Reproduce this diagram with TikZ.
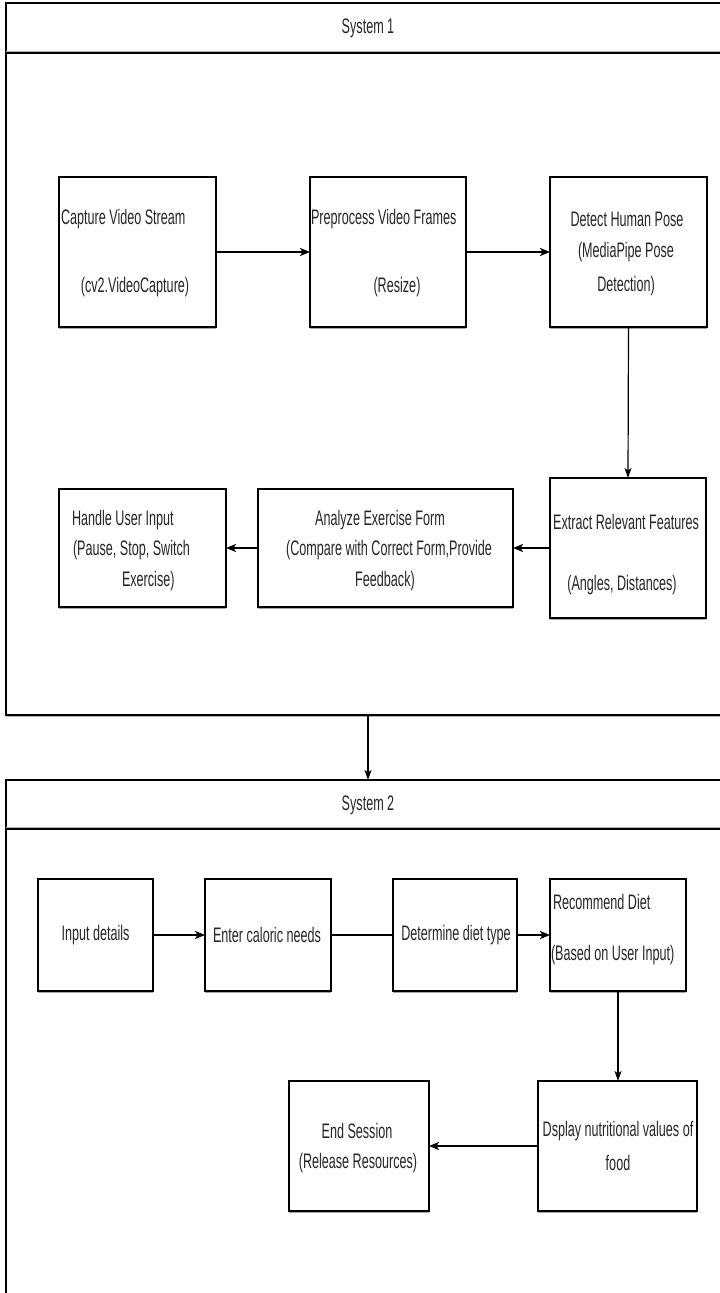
\documentclass[tikz,border=0pt]{standalone}
\usepackage{fontspec}
\setmainfont{Liberation Sans}[FakeStretch=0.6]
\usetikzlibrary{arrows.meta,shadows}
\begin{document}
\begin{tikzpicture}[x=1pt,y=-1pt,
  every node/.style={inner sep=0pt,outer sep=0pt},
  box/.style={draw=black,line width=1.2pt,fill=white,rectangle,
    drop shadow={shadow xshift=0pt,shadow yshift=-1.6pt,fill=black!35,opacity=1}},
  cont/.style={draw=black,line width=1.6pt,fill=white,rectangle,
    drop shadow={shadow xshift=0pt,shadow yshift=-1.8pt,fill=black!30,opacity=1}},
  txt/.style={font=\fontsize{21}{23}\selectfont,text=black!85},
  arr/.style={line width=1.8pt,-{Stealth[length=10pt,width=8pt,inset=2.5pt]}},
  tarr/.style={line width=1.2pt,-{Stealth[length=10pt,width=7pt,inset=2.5pt]}},
  ln/.style={line width=1.8pt},
  divider/.style={line width=1.6pt}
]
\useasboundingbox (0,0) rectangle (720,1293);
% containers
\node[cont,minimum width=724pt,minimum height=712pt] (sys1) at (368,359) {};
\node[cont,minimum width=724pt,minimum height=560pt] (sys2) at (368,1060) {};
\coordinate (d1l) at (6,53);
\coordinate (d1r) at (730,53);
\coordinate (d2l) at (6,829);
\coordinate (d2r) at (730,829);
\draw[black!30,line width=1.4pt] ([yshift=1.8pt]d1l) -- ([yshift=1.8pt]d1r);
\draw[divider] (d1l) -- (d1r);
\draw[black!30,line width=1.4pt] ([yshift=1.8pt]d2l) -- ([yshift=1.8pt]d2r);
\draw[divider] (d2l) -- (d2r);
\node[txt] (h1) at (368,28) {System 1};
\node[txt] (h2) at (368,805) {System 2};

% row 1
\node[box,minimum width=157pt,minimum height=150pt] (cap) at (137.5,252) {};
\node[box,minimum width=156pt,minimum height=150pt] (pre) at (388,252) {};
\node[box,minimum width=157pt,minimum height=150pt] (det) at (628.5,252) {};
\node[txt,anchor=west] (capa) at (61,219) {Capture Video Stream};
\node[txt] (capb) at (135,287) {(cv2.VideoCapture)};
\node[txt,anchor=west] (prea) at (311,219) {Preprocess Video Frames};
\node[txt] (preb) at (397,287) {(Resize)};
\node[txt] (deta) at (627,219) {Detect Human Pose};
\node[txt] (detb) at (626,252) {(MediaPipe Pose};
\node[txt] (detc) at (626,286) {Detection)};

% row 2
\node[box,minimum width=156pt,minimum height=140pt] (ext) at (628,548) {};
\node[box,minimum width=255pt,minimum height=118pt] (ana) at (385.5,548) {};
\node[box,minimum width=167pt,minimum height=118pt] (han) at (142.5,548) {};
\node[txt] (exta) at (626,522) {Extract Relevant Features};
\node[txt] (extb) at (622,585) {(Angles, Distances)};
\node[txt] (anaa) at (380,520) {Analyze Exercise Form};
\node[txt] (anab) at (389,550) {(Compare with Correct Form,Provide};
\node[txt] (anac) at (385,581) {Feedback)};
\node[txt,anchor=west] (hana) at (72,520) {Handle User Input};
\node[txt,anchor=west] (hanb) at (73,550) {(Pause, Stop, Switch};
\node[txt,anchor=west] (hanc) at (122,581) {Exercise)};

% row 3
\node[box,minimum width=115pt,minimum height=112pt] (inp) at (95.5,935) {};
\node[box,minimum width=126pt,minimum height=112pt] (ent) at (268,935) {};
\node[box,minimum width=124pt,minimum height=112pt] (dtd) at (455,935) {};
\node[box,minimum width=136pt,minimum height=112pt] (rec) at (618,935) {};
\node[txt] (inpa) at (95.5,935) {Input details};
\node[txt] (enta) at (267,935) {Enter caloric needs};
\node[txt] (dtda) at (456,935) {Determine diet type};
\node[txt,anchor=west] (reca) at (553,902) {Recommend Diet};
\node[txt,anchor=west] (recb) at (551,955) {(Based on User Input)};

% row 4
\node[box,minimum width=159pt,minimum height=130pt] (disp) at (617.5,1146) {};
\node[box,minimum width=140pt,minimum height=130pt] (endn) at (359,1146) {};
\node[txt] (dispa) at (618,1131) {Dsplay nutritional values of};
\node[txt] (dispb) at (618,1163) {food};
\node[txt] (enda) at (357,1131) {End Session};
\node[txt] (endb) at (358,1163) {(Release Resources)};

% connectors
\draw[arr] (cap.east) -- (pre.west);
\draw[arr] (pre.east) -- (det.west);
\draw[tarr] (det.south) -- (ext.north);
\draw[arr] (ext.west) -- (ana.east);
\draw[arr] (ana.west) -- (han.east);
\draw[tarr] (sys1.south) -- (sys2.north);
\draw[arr] (inp.east) -- (ent.west);
\draw[ln] (ent.east) -- (dtd.west);
\draw[arr] (dtd.east) -- (rec.west);
\draw[tarr] (rec.south) -- (rec.south |- disp.north);
\draw[arr] (disp.west) -- (endn.east);
\end{tikzpicture}
\end{document}
